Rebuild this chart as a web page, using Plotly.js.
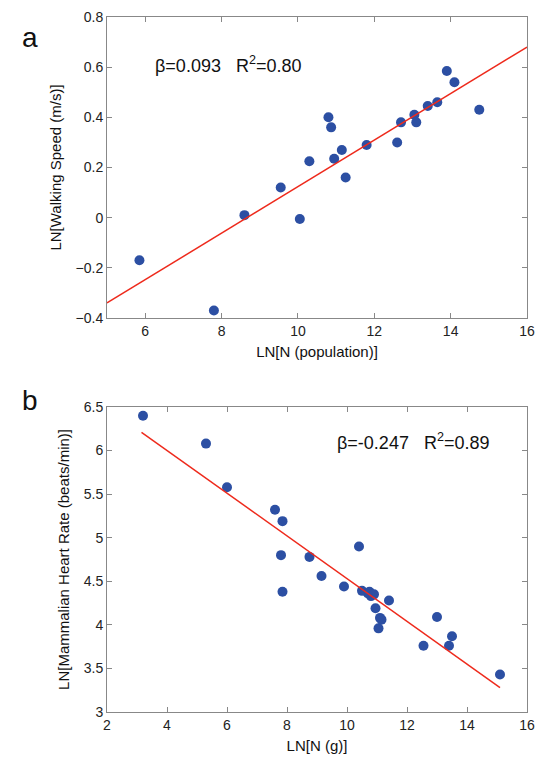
<!DOCTYPE html><html><head><script src="https://cdn.plot.ly/plotly-3.0.1.min.js"></script></head><body style="margin:0"><div id="c" style="width:548px;height:769px"></div><script>
const ax=[5.85,7.8,8.6,9.55,10.05,10.3,10.8,10.87,10.95,11.15,11.25,11.8,12.6,12.7,13.05,13.1,13.4,13.65,13.9,14.1,14.75];
const ay=[-0.17,-0.37,0.01,0.12,-0.005,0.225,0.40,0.36,0.235,0.27,0.16,0.29,0.30,0.38,0.41,0.38,0.445,0.46,0.585,0.54,0.43];
const aLineX=[5,16], aLineY=[-0.34,0.68];
const bx=[3.2,5.3,6.0,7.6,7.85,7.8,7.85,8.75,9.15,9.9,10.4,10.5,10.7,10.75,10.8,10.9,10.95,11.05,11.1,11.15,11.4,12.55,13.0,13.4,13.5,15.1];
const by=[6.4,6.08,5.58,5.32,5.19,4.8,4.38,4.78,4.56,4.44,4.9,4.39,4.36,4.38,4.33,4.35,4.19,3.96,4.08,4.06,4.28,3.76,4.09,3.76,3.87,3.43];
const bLineX=[3.15,15.1], bLineY=[6.21,3.28];
const mk={color:'#2c4fa3',size:10};
const ln={color:'#ee2a1c',width:1.5};
const axs={showline:true,mirror:'ticks',linecolor:'#888',ticks:'inside',ticklen:5,tickcolor:'#888',zeroline:false,showgrid:false,tickfont:{size:14,color:'#222'},title:{font:{size:15,color:'#222'}}};
const F='Liberation Sans, Arial, sans-serif';
Plotly.newPlot('c',[
{x:ax,y:ay,mode:'markers',marker:mk,xaxis:'x',yaxis:'y'},
{x:aLineX,y:aLineY,mode:'lines',line:ln,xaxis:'x',yaxis:'y'},
{x:bx,y:by,mode:'markers',marker:mk,xaxis:'x2',yaxis:'y2'},
{x:bLineX,y:bLineY,mode:'lines',line:ln,xaxis:'x2',yaxis:'y2'}
],{width:548,height:769,showlegend:false,font:{family:F,color:'#111'},margin:{l:0,r:0,t:0,b:0},
xaxis:{...axs,domain:[107/548,527/548],range:[5,16],dtick:2,tick0:6,anchor:'y',title:{text:'LN[N (population)]',font:{size:15},standoff:8}},
yaxis:{...axs,domain:[1-318/769,1-17/769],range:[-0.4,0.8],dtick:0.2,anchor:'x',title:{text:'LN[Walking Speed (m/s)]',font:{size:15},standoff:10}},
xaxis2:{...axs,domain:[107/548,527/548],range:[2,16],dtick:2,anchor:'y2',title:{text:'LN[N (g)]',font:{size:15},standoff:8}},
yaxis2:{...axs,domain:[1-712/769,1-407/769],range:[3,6.5],dtick:0.5,anchor:'x2',title:{text:'LN[Mammalian Heart Rate (beats/min)]',font:{size:15},standoff:10}},
annotations:[
{text:'a',x:20,y:20,xref:'paper',yref:'paper',showarrow:false,font:{size:28}},
{text:'b',x:20,y:400,xref:'paper',yref:'paper',showarrow:false,font:{size:28}},
{text:'β=0.093   R<sup>2</sup>=0.80',xref:'x',yref:'y',x:6.2,y:0.61,xanchor:'left',showarrow:false,font:{size:18}},
{text:'β=-0.247   R<sup>2</sup>=0.89',xref:'x2',yref:'y2',x:9.6,y:6.1,xanchor:'left',showarrow:false,font:{size:18}}
].map(a=>a.xref==='paper'?{...a,x:a.x/548,y:1-a.y/769}:a)
},{displayModeBar:false});
</script></body></html>
